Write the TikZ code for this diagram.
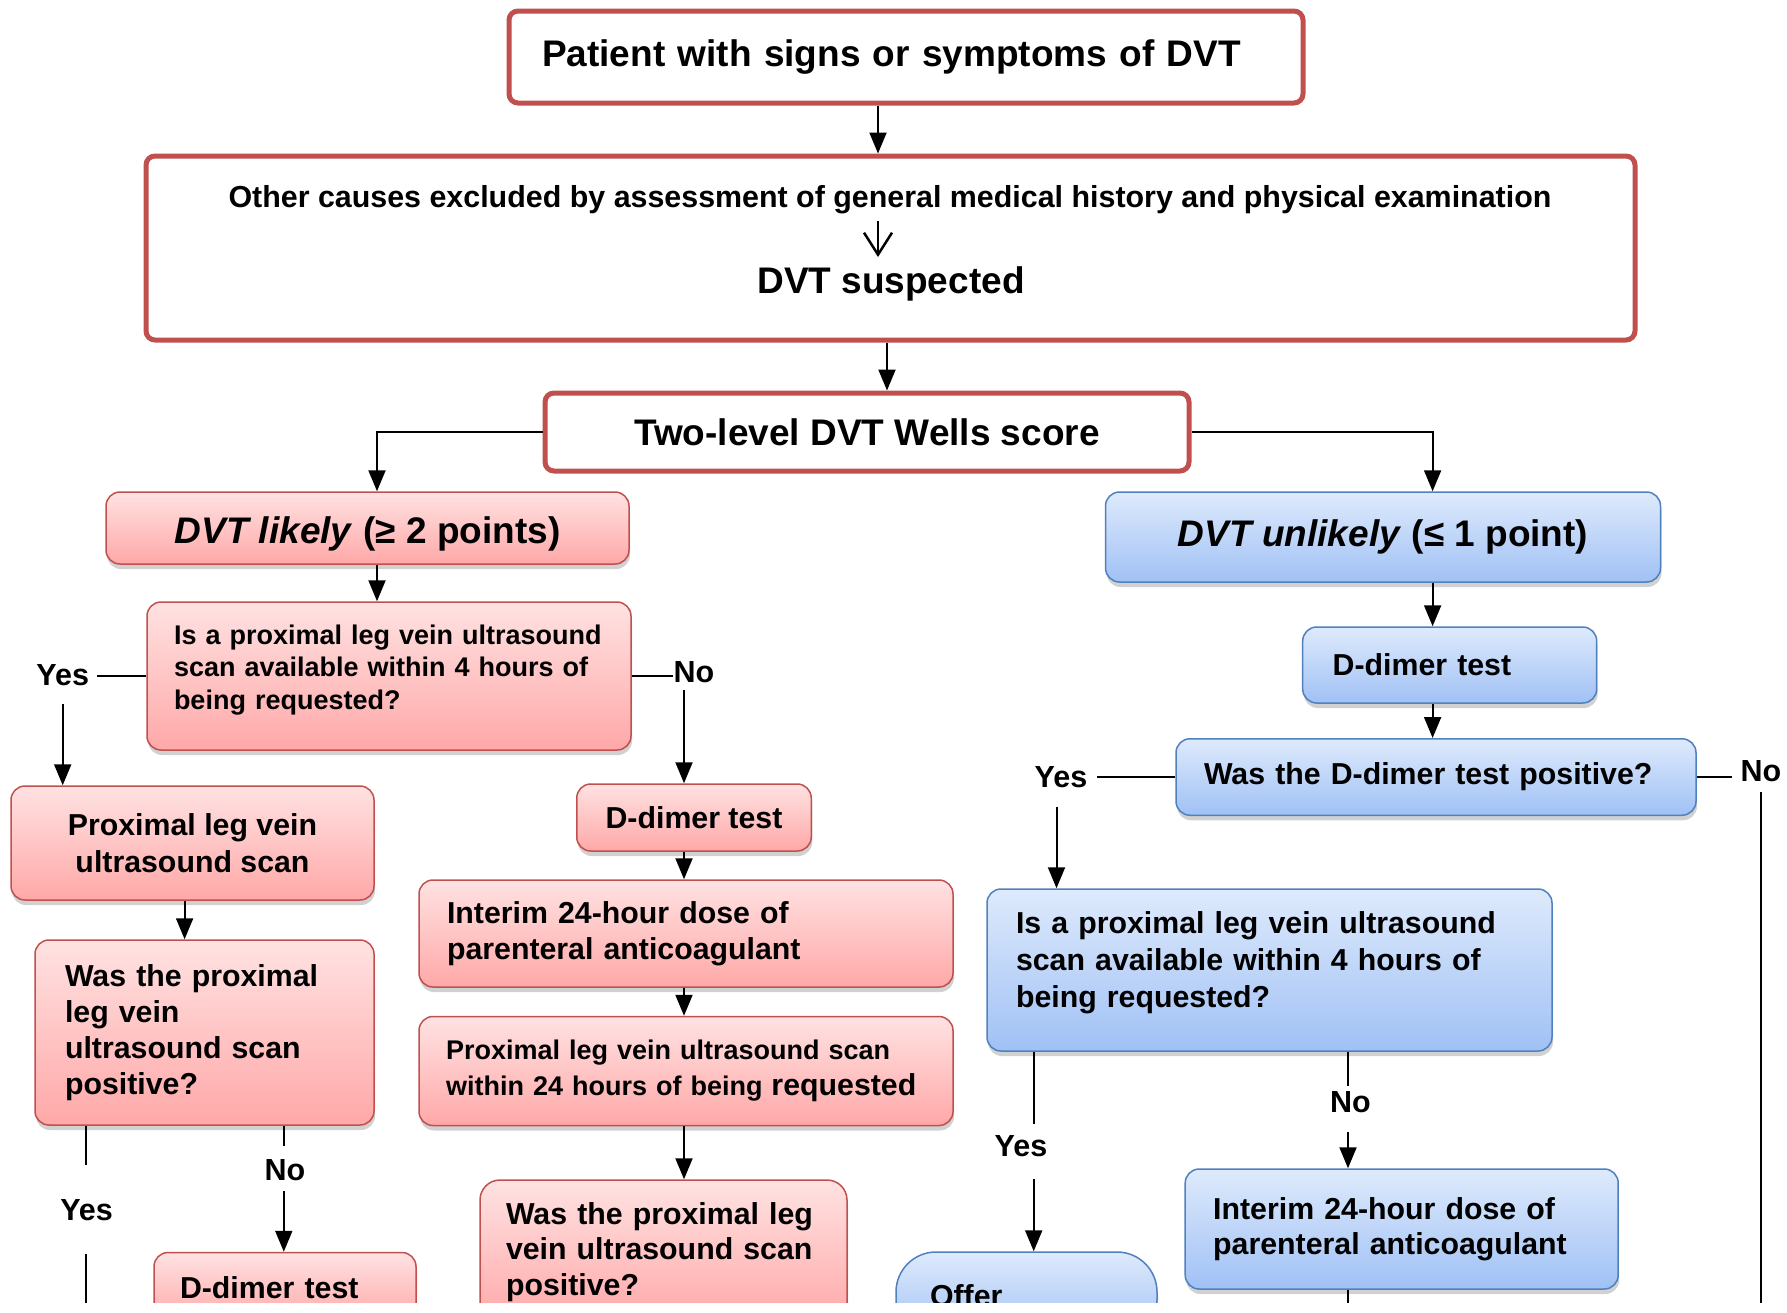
\documentclass[tikz,border=0pt]{standalone}
\usepackage{fontspec}
\setmainfont{Liberation Sans}
\usetikzlibrary{arrows.meta,shadows,calc}
\definecolor{redB}{RGB}{192,80,77}
\definecolor{blueB}{RGB}{79,129,189}
\definecolor{pinkT}{RGB}{255,226,226}
\definecolor{pinkBot}{RGB}{255,168,168}
\definecolor{blueT}{RGB}{222,234,252}
\definecolor{blueBot}{RGB}{160,193,245}
\newcommand\fntHead{\fontsize{37}{44}\selectfont\bfseries}
\newcommand\fntBody{\fontsize{30.3}{36}\selectfont\bfseries}
\newcommand\fntSmall{\fontsize{27}{32.5}\selectfont\bfseries}
\newcommand\fntLbl{\fontsize{30.5}{36}\selectfont\bfseries}
\begin{document}
\begin{tikzpicture}[x=1pt,y=-1pt,
  topbox/.style={draw=redB, line width=5pt, rounded corners=9pt, fill=white, inner sep=0pt},
  colbox/.style={line width=1.5pt, rounded corners=14pt,
    drop shadow={shadow xshift=1pt, shadow yshift=-5pt, opacity=0.3, fill=black!60}},
  pinkbox/.style={colbox, draw=redB, top color=pinkT, bottom color=pinkBot},
  bluebox/.style={colbox, draw=blueB, top color=blueT, bottom color=blueBot},
  arr/.style={line width=2pt, -{Triangle[length=21pt,width=17pt]}},
  barb/.style={line width=2.5pt, -{Straight Barb[length=22pt,width=28pt]}},
  ln/.style={line width=2pt},
  lbl/.style={font=\fntLbl, inner sep=0pt}]
\useasboundingbox (0,0) rectangle (1787,1312);
\clip (0,0) rectangle (1787,1302);

% top boxes
\node[topbox, font=\fntHead, minimum width=794pt, minimum height=92pt,
      inner xsep=33pt, text width=728pt, align=left] (b1) at (906,57)
      {Patient with signs or symptoms of DVT};
\node[topbox, minimum width=1489pt, minimum height=184pt] (b2) at (890.5,248) {};
\node[font=\fontsize{30.4}{36}\selectfont\bfseries, inner sep=0pt, anchor=base] (t2a) at (890,207)
      {Other causes excluded by assessment of general medical history and physical examination};
\node[font=\fntHead, inner sep=0pt, anchor=base] (t2b) at (891,293) {DVT suspected};
\coordinate (s1) at (878,221);
\coordinate (s2) at (878,257);
\draw[barb] (s1) -- (s2);
\node[topbox, font=\fntHead, minimum width=644pt, minimum height=78pt, align=center] (b3) at (867,432)
      {Two-level DVT Wells score};

% likely / unlikely
\node[pinkbox, font=\fntHead, minimum width=523pt, minimum height=72pt, inner sep=0pt,
      text height=39pt, text depth=7.8pt] (b4) at (367.5,528)
      {\textit{DVT likely} (≥ 2 points)};
\node[bluebox, font=\fntHead, minimum width=555pt, minimum height=90pt, inner sep=0pt] (b5) at (1383,537)
      {\textit{DVT unlikely} (≤ 1 point)};

% left branch
\node[pinkbox, font=\fntSmall, minimum width=484pt, minimum height=148pt,
      inner xsep=27pt, inner ysep=0pt, text width=430pt, align=left, text depth=83pt] (b6) at (389,676)
      {Is a proximal leg vein ultrasound\\scan available within 4 hours of\\being requested?};
\node[pinkbox, font=\fontsize{30.3}{37}\selectfont\bfseries, minimum width=363pt, minimum height=114pt,
      inner sep=0pt, align=center] (b7) at (192.5,843)
      {Proximal leg vein\\ultrasound scan};
\node[pinkbox, font=\fntBody, minimum width=339pt, minimum height=185pt,
      inner xsep=30pt, text width=279pt, align=left] (b8) at (204.5,1032.5)
      {Was the proximal\\leg vein\\ultrasound scan\\positive?};
\node[pinkbox, font=\fntBody, minimum width=262pt, minimum height=71pt,
      inner xsep=26pt, text width=210pt, align=left] (b9) at (285,1288)
      {D-dimer test};
\node[pinkbox, font=\fntBody, minimum width=234.5pt, minimum height=67pt, inner sep=0pt] (b10) at (694,817.5)
      {D-dimer test};
\node[pinkbox, font=\fontsize{30.3}{36.5}\selectfont\bfseries, minimum width=534pt, minimum height=107pt,
      inner xsep=28pt, text width=478pt, align=left] (b11) at (686,933.5)
      {Interim 24-hour dose of\\parenteral anticoagulant};
\node[pinkbox, font=\fontsize{27}{35.5}\selectfont\bfseries, minimum width=534pt, minimum height=109pt,
      inner xsep=27pt, text width=480pt, align=left] (b12) at (686,1071)
      {Proximal leg vein ultrasound scan\\within 24 hours of being {\fontsize{30.3}{35.5}\selectfont requested}};
\node[pinkbox, font=\fontsize{30.3}{35.3}\selectfont\bfseries, minimum width=367pt, minimum height=144pt,
      inner xsep=26pt, text width=315pt, align=left, rounded corners=20pt] (b13) at (663.5,1252)
      {Was the proximal leg\\vein ultrasound scan\\positive?};

% right branch
\node[bluebox, font=\fntBody, minimum width=294pt, minimum height=76pt,
      inner xsep=30pt, text width=234pt, align=left] (b14) at (1449.7,665)
      {D-dimer test};
\node[bluebox, font=\fntBody, minimum width=520pt, minimum height=76.5pt,
      inner xsep=28pt, text width=464pt, align=left] (b15) at (1436,777)
      {Was the D-dimer test positive?};
\node[bluebox, font=\fontsize{30.3}{37}\selectfont\bfseries, minimum width=565pt, minimum height=162pt,
      inner xsep=29pt, inner ysep=0pt, text width=507pt, align=left, text depth=94pt] (b16) at (1269.5,970)
      {Is a proximal leg vein ultrasound\\scan available within 4 hours of\\being requested?};
\node[bluebox, font=\fntBody, minimum width=261pt, minimum height=88pt,
      inner xsep=34pt, text width=193pt, align=left, rounded corners=40pt] (b17) at (1026.5,1296)
      {Offer};
\node[bluebox, font=\fontsize{30.3}{35}\selectfont\bfseries, minimum width=433pt, minimum height=120pt,
      inner xsep=28pt, text width=377pt, align=left] (b18) at (1401.7,1229)
      {Interim 24-hour dose of\\parenteral anticoagulant};

% labels
\node[lbl] (ly1) at (62.7,675) {Yes};
\node[lbl] (ln1) at (694,672) {No};
\node[lbl] (ly2) at (86.6,1210) {Yes};
\node[lbl] (ln2) at (285,1170.5) {No};
\node[lbl] (ly3) at (1061,777) {Yes};
\node[lbl] (ln3) at (1761,771.6) {No};
\node[lbl] (ly4) at (1021,1146.5) {Yes};
\node[lbl] (ln4) at (1350.5,1102) {No};

% main connectors
\draw[arr] (b1.south -| 878,0) -- (b2.north -| 878,0);
\draw[arr] (b2.south -| 887,0) -- (b3.north -| 887,0);
\draw[arr] (b3.west) -| (b4.north -| 377,0);
\draw[arr] (b3.east) -| (b5.north -| 1432.6,0);
\draw[arr] (b4.south -| 377,0) -- (b6.north -| 377,0);

% left-most
\coordinate (c1) at ($(ly1.east)+(8,0)$);
\draw[ln] (b6.west) -- (b6.west -| c1);
\coordinate (c1b) at ($(ly1.south)+(0,18)$);
\draw[arr] (c1b) -- (c1b |- b7.north);
\draw[arr] (b7.south -| 184.6,0) -- (b8.north -| 184.6,0);
\coordinate (c2) at ($(ly2.north)+(-1,-34)$);
\draw[ln] (b8.south -| c2) -- (c2);
\coordinate (c3) at ($(ly2.south)+(-1,33)$);
\coordinate (endL) at (85.6,1340);
\draw[ln] (c3) -- (endL);
\coordinate (c4) at ($(ln2.north)+(-1.2,-14)$);
\draw[ln] (b8.south -| c4) -- (c4);
\coordinate (c5) at ($(ln2.south)+(-1.2,10)$);
\draw[arr] (c5) -- (c5 |- b9.north);

% middle
\draw[ln] (b6.east) -- (b6.east -| ln1.west);
\coordinate (a1) at ($(ln1.south)+(-10,7)$);
\draw[arr] (a1) -- (a1 |- b10.north);
\draw[arr] (b10.south -| 684,0) -- (b11.north -| 684,0);
\draw[arr] (b11.south -| 684,0) -- (b12.north -| 684,0);
\draw[arr] (b12.south -| 684,0) -- (b13.north -| 684,0);

% right
\draw[arr] (b5.south -| 1432.6,0) -- (b14.north -| 1432.6,0);
\draw[arr] (b14.south -| 1432.6,0) -- (b15.north -| 1432.6,0);
\coordinate (c6) at ($(ly3.east)+(9.5,0)$);
\draw[ln] (b15.west) -- (b15.west -| c6);
\coordinate (c7) at ($(ly3.south)+(-4.5,19)$);
\draw[arr] (c7) -- (c7 |- b16.north);
\coordinate (c8) at ($(ln3.west)+(-8.7,0)$);
\draw[ln] (b15.east) -- (b15.east -| c8);
\coordinate (c9) at ($(ln3.south)+(0,9.5)$);
\coordinate (endR) at (1761,1340);
\draw[ln] (c9) -- (endR);
\coordinate (c10) at ($(ly4.north)+(12.7,-11.6)$);
\draw[ln] (b16.south -| c10) -- (c10);
\coordinate (c11) at ($(ly4.south)+(12.7,22)$);
\draw[arr] (c11) -- (c11 |- b17.north);
\coordinate (c12) at ($(ln4.north)+(-2.5,-5)$);
\draw[ln] (b16.south -| c12) -- (c12);
\coordinate (c13) at ($(ln4.south)+(-2.5,18.7)$);
\draw[arr] (c13) -- (c13 |- b18.north);
\coordinate (endB) at (1348,1340);
\draw[ln] (b18.south -| endB) -- (endB);
\end{tikzpicture}
\end{document}
